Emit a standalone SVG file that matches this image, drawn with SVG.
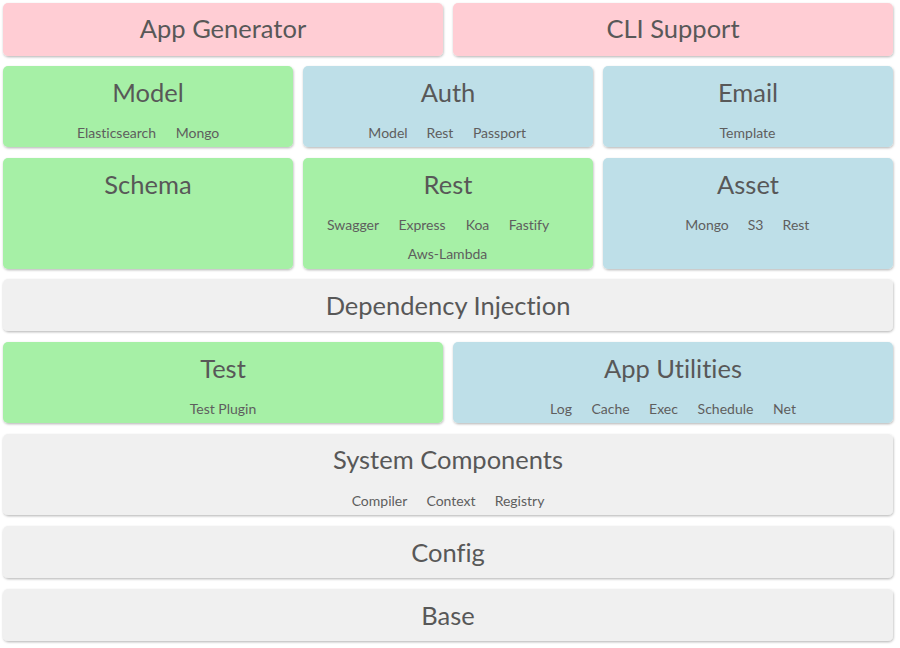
<svg xmlns="http://www.w3.org/2000/svg" width="900" height="648" viewBox="0 0 900 648">
<defs>
<filter id="sh" x="-5%" y="-10%" width="110%" height="130%">
<feDropShadow dx="0.5" dy="1.2" stdDeviation="1" flood-color="#000" flood-opacity="0.28"/>
</filter>
<style>
rect{filter:url(#sh)}
.pink{fill:#ffcdd4}
.green{fill:#a6f0a6}
.blue{fill:#bedfe8}
.gray{fill:#f0f0f0}
.t{font-family:Lato,"Liberation Sans",sans-serif;font-size:25.5px;fill:#585858;text-anchor:middle;font-variant-ligatures:none}
.s{font-family:Lato,"Liberation Sans",sans-serif;font-size:14px;fill:#5e5e5e;text-anchor:middle;font-variant-ligatures:none}
</style>
</defs>
<rect width="900" height="648" fill="#fff" style="filter:none"/>
<g id="app-generator"><rect class="pink" x="3" y="3" width="440" height="53" rx="5"/><text class="t" x="223" y="38">App Generator</text></g>
<g id="cli-support"><rect class="pink" x="453" y="3" width="440" height="53" rx="5"/><text class="t" x="673" y="38">CLI Support</text></g>
<g id="model"><rect class="green" x="3" y="66" width="290" height="81" rx="5"/><text class="t" x="148" y="102">Model</text>
<text class="s" x="116.5" y="138">Elasticsearch</text><text class="s" x="197.5" y="138">Mongo</text></g>
<g id="auth"><rect class="blue" x="303" y="66" width="290" height="81" rx="5"/><text class="t" x="448" y="102">Auth</text>
<text class="s" x="388" y="138">Model</text><text class="s" x="440" y="138">Rest</text><text class="s" x="499.5" y="138">Passport</text></g>
<g id="email"><rect class="blue" x="603" y="66" width="290" height="81" rx="5"/><text class="t" x="748" y="102">Email</text>
<text class="s" x="747.5" y="138">Template</text></g>
<g id="schema"><rect class="green" x="3" y="158" width="290" height="111" rx="5"/><text class="t" x="148" y="194">Schema</text></g>
<g id="rest"><rect class="green" x="303" y="158" width="290" height="111" rx="5"/><text class="t" x="448" y="194">Rest</text>
<text class="s" x="353" y="230">Swagger</text><text class="s" x="422" y="230">Express</text><text class="s" x="477.5" y="230">Koa</text><text class="s" x="529" y="230">Fastify</text>
<text class="s" x="447.5" y="259">Aws-Lambda</text></g>
<g id="asset"><rect class="blue" x="603" y="158" width="290" height="111" rx="5"/><text class="t" x="748" y="194">Asset</text>
<text class="s" x="707" y="230">Mongo</text><text class="s" x="755.5" y="230">S3</text><text class="s" x="796" y="230">Rest</text></g>
<g id="dependency-injection"><rect class="gray" x="3" y="279" width="890" height="52" rx="5"/><text class="t" x="448" y="315">Dependency Injection</text></g>
<g id="test"><rect class="green" x="3" y="342" width="440" height="81" rx="5"/><text class="t" x="223" y="378">Test</text>
<text class="s" x="223" y="414">Test Plugin</text></g>
<g id="app-utilities"><rect class="blue" x="453" y="342" width="440" height="81" rx="5"/><text class="t" x="673" y="378">App Utilities</text>
<text class="s" x="561" y="414">Log</text><text class="s" x="610.5" y="414">Cache</text><text class="s" x="663.5" y="414">Exec</text><text class="s" x="725.5" y="414">Schedule</text><text class="s" x="784.5" y="414">Net</text></g>
<g id="system-components"><rect class="gray" x="3" y="434" width="890" height="81" rx="5"/><text class="t" x="448" y="469">System Components</text>
<text class="s" x="379.5" y="505.5">Compiler</text><text class="s" x="451" y="505.5">Context</text><text class="s" x="519.5" y="505.5">Registry</text></g>
<g id="config"><rect class="gray" x="3" y="526" width="890" height="52" rx="5"/><text class="t" x="448" y="562">Config</text></g>
<g id="base"><rect class="gray" x="3" y="589" width="890" height="52" rx="5"/><text class="t" x="448" y="625">Base</text></g>
<g id="connectors"/>
</svg>
